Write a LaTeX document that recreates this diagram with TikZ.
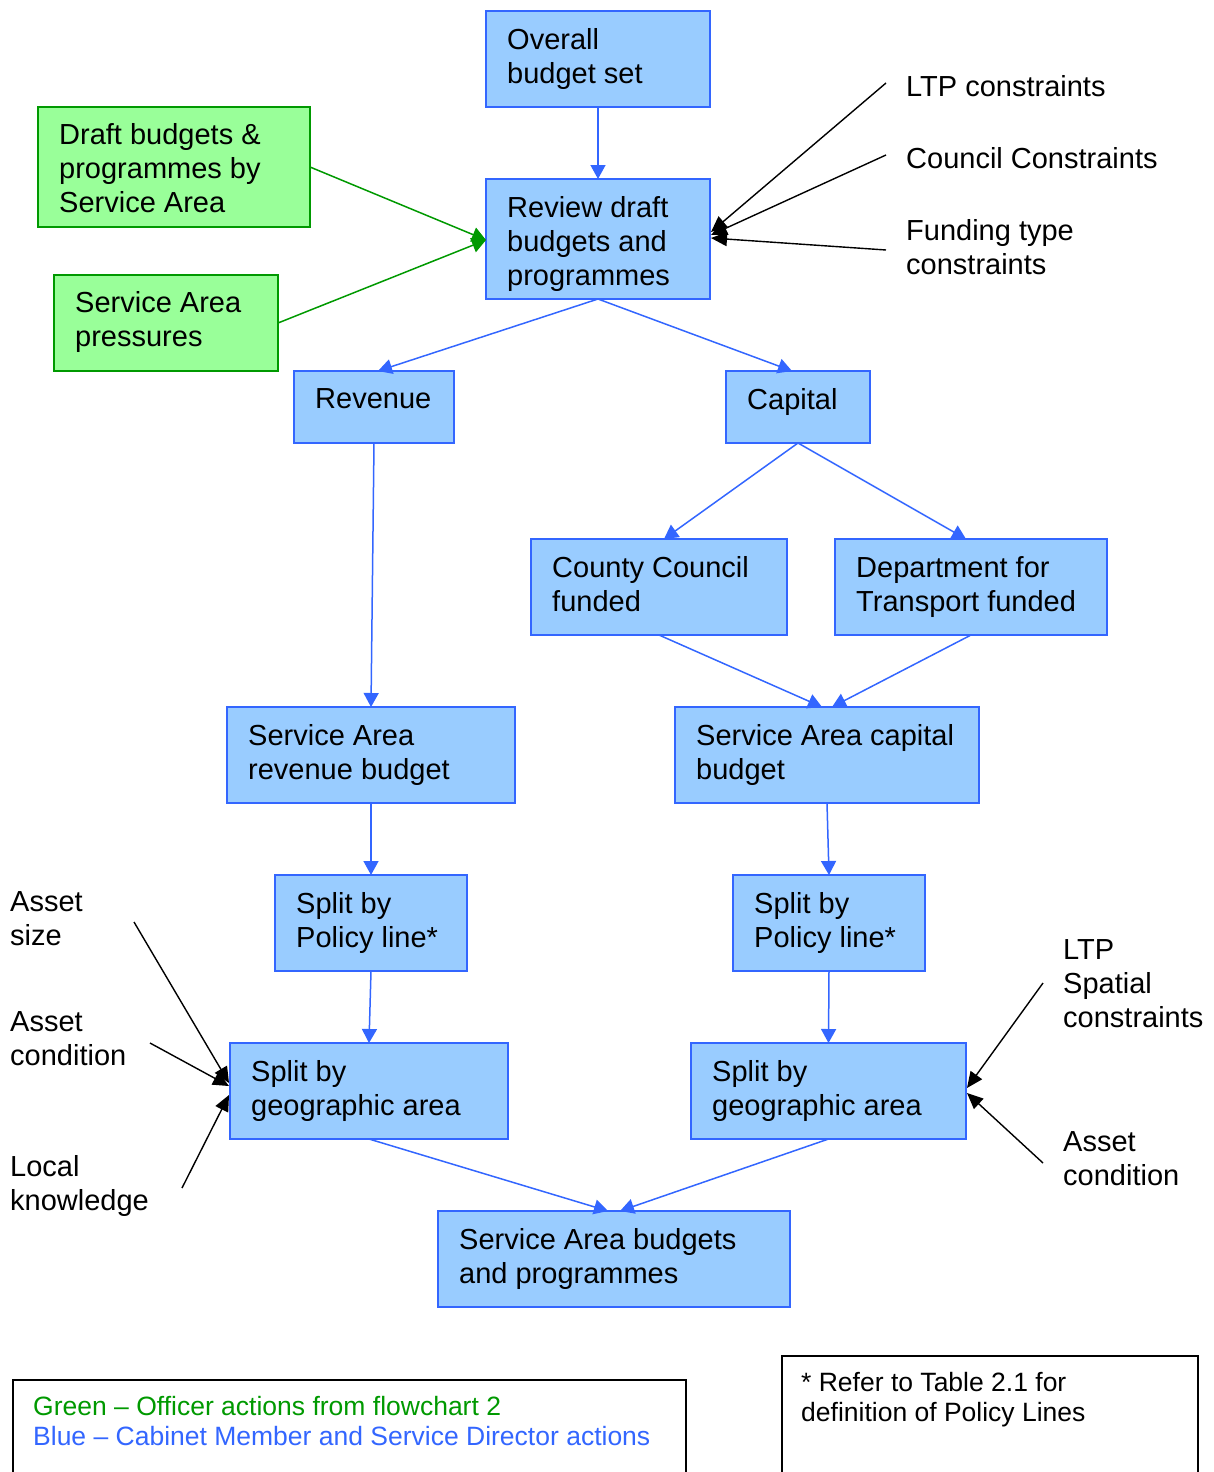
\documentclass[tikz,border=0pt]{standalone}
\usepackage{fontspec}
\setmainfont{Liberation Sans}
\usetikzlibrary{arrows.meta,calc}
\definecolor{bfill}{HTML}{99CCFF}
\definecolor{bline}{HTML}{3366FF}
\definecolor{gfill}{HTML}{99FF99}
\definecolor{gline}{HTML}{009900}
\begin{document}
\begin{tikzpicture}[x=1pt,y=-1pt,
 bbox/.style={draw=bline, fill=bfill, line width=2pt, anchor=north west, inner sep=0pt, outer sep=0pt},
 gbox/.style={draw=gline, fill=gfill, line width=2pt, anchor=north west, inner sep=0pt, outer sep=0pt},
 txt/.style={font=\fontsize{29}{34}\selectfont, align=left, inner sep=0pt, anchor=north west},
 note/.style={font=\fontsize{26.5}{30}\selectfont, align=left, inner sep=0pt, anchor=north west},
 barr/.style={draw=bline, line width=1.5pt, -{Triangle[length=14pt,width=15pt]}},
 garr/.style={draw=gline, line width=1.5pt, -{Triangle[length=14pt,width=15pt]}},
 karr/.style={draw=black, line width=1.4pt, -{Triangle[length=16pt,width=14pt]}},
 frame/.style={draw=black, line width=1.5pt}
]
\useasboundingbox (0,0) rectangle (1213,1472);

% blue boxes
\node[bbox, minimum width=224pt, minimum height=96pt] (ovr) at (486,11) {};
\node[bbox, minimum width=224pt, minimum height=120pt] (rvw) at (486,179) {};
\node[bbox, minimum width=160pt, minimum height=72pt] (rev) at (294,371) {};
\node[bbox, minimum width=144pt, minimum height=72pt] (cap) at (726,371) {};
\node[bbox, minimum width=256pt, minimum height=96pt] (ccf) at (531,539) {};
\node[bbox, minimum width=272pt, minimum height=96pt] (dft) at (835,539) {};
\node[bbox, minimum width=288pt, minimum height=96pt] (sarev) at (227,707) {};
\node[bbox, minimum width=304pt, minimum height=96pt] (sacap) at (675,707) {};
\node[bbox, minimum width=192pt, minimum height=96pt] (polL) at (275,875) {};
\node[bbox, minimum width=192pt, minimum height=96pt] (polR) at (733,875) {};
\node[bbox, minimum width=278pt, minimum height=96pt] (geoL) at (230,1043) {};
\node[bbox, minimum width=275pt, minimum height=96pt] (geoR) at (691,1043) {};
\node[bbox, minimum width=352pt, minimum height=96pt] (fin) at (438,1211) {};
% green boxes
\node[gbox, minimum width=272pt, minimum height=120pt] (draft) at (38,107) {};
\node[gbox, minimum width=224pt, minimum height=96pt] (press) at (54,275) {};

% box texts
\node[txt] (ovrT) at ($(ovr.north west)+(21,17)$) {Overall\\budget set};
\node[txt] (rvwT) at ($(rvw.north west)+(21,17)$) {Review draft\\budgets and\\programmes};
\node[txt] (revT) at ($(rev.north west)+(21,17)$) {Revenue};
\node[txt] (capT) at ($(cap.north west)+(21,17)$) {Capital};
\node[txt] (ccfT) at ($(ccf.north west)+(21,17)$) {County Council\\funded};
\node[txt] (dftT) at ($(dft.north west)+(21,17)$) {Department for\\Transport funded};
\node[txt] (sarevT) at ($(sarev.north west)+(21,17)$) {Service Area\\revenue budget};
\node[txt] (sacapT) at ($(sacap.north west)+(21,17)$) {Service Area capital\\budget};
\node[txt] (polLT) at ($(polL.north west)+(21,17)$) {Split by\\Policy line*};
\node[txt] (polRT) at ($(polR.north west)+(21,17)$) {Split by\\Policy line*};
\node[txt] (geoLT) at ($(geoL.north west)+(21,17)$) {Split by\\geographic area};
\node[txt] (geoRT) at ($(geoR.north west)+(21,17)$) {Split by\\geographic area};
\node[txt] (finT) at ($(fin.north west)+(21,17)$) {Service Area budgets\\and programmes};
\node[txt] (draftT) at ($(draft.north west)+(21,16)$) {Draft budgets \&\\programmes by\\Service Area};
\node[txt] (pressT) at ($(press.north west)+(21,16)$) {Service Area\\pressures};

% outside labels
\node[txt] (ltp) at (906,75) {LTP constraints};
\node[txt] (ccon) at (906,147) {Council Constraints};
\node[txt] (fund) at (906,219) {Funding type\\constraints};
\node[txt] (asize) at (10,891) {Asset\\size};
\node[txt] (acondL) at (10,1011) {Asset\\condition};
\node[txt] (local) at (10,1155) {Local\\knowledge};
\node[txt] (ltpsp) at (1063,939) {LTP\\Spatial\\constraints};
\node[txt] (acondR) at (1063,1131) {Asset\\condition};

% free ends of black connectors
\coordinate (cLtp) at (886,83);
\coordinate (cCcon) at (886,155);
\coordinate (cFund) at (886,250);
\coordinate (cSize) at (134,922);
\coordinate (cCondL) at (150,1043);
\coordinate (cLocal) at (182,1188);
\coordinate (cLtpsp) at (1043,983);
\coordinate (cCondR) at (1043,1163);

% blue connectors
\draw[barr] (ovr.south) -- (rvw.north);
\draw[barr] (rvw.south) -- ($(rev.north)+(4,0)$);
\draw[barr] (rvw.south) -- ($(cap.north)+(-6,0)$);
\draw[barr] (rev.south) -- (sarev.north);
\draw[barr] (cap.south) -- ($(ccf.north)+(5,0)$);
\draw[barr] (cap.south) -- ($(dft.north)+(-5,0)$);
\draw[barr] (ccf.south) -- ($(sacap.north)+(-5,0)$);
\draw[barr] (dft.south) -- ($(sacap.north)+(5,0)$);
\draw[barr] (sarev.south) -- (polL.north);
\draw[barr] (sacap.south) -- (polR.north);
\draw[barr] (polL.south) -- (geoL.north);
\draw[barr] (polR.south) -- (geoR.north);
\draw[barr] (geoL.south) -- ($(fin.north)+(-6,0)$);
\draw[barr] (geoR.south) -- ($(fin.north)+(6,0)$);

% green connectors
\draw[garr] (draft.east) -- ($(rvw.west)+(0,1)$);
\draw[garr] (press.east) -- ($(rvw.west)+(0,1)$);

% black connectors
\draw[karr] (cLtp) -- ($(rvw.east)+(1,-7)$);
\draw[karr] (cCcon) -- ($(rvw.east)+(1,-4)$);
\draw[karr] (cFund) -- ($(rvw.east)+(1,-1)$);
\draw[karr] (cSize) -- ($(geoL.west)+(-1,-8)$);
\draw[karr] (cCondL) -- ($(geoL.west)+(-1,-5)$);
\draw[karr] (cLocal) -- ($(geoL.west)+(-1,4)$);
\draw[karr] (cLtpsp) -- ($(geoR.east)+(1,-3)$);
\draw[karr] (cCondR) -- ($(geoR.east)+(1,2)$);

% legend and footnote frames
\node[frame, anchor=north west, minimum width=673pt, minimum height=100pt, inner sep=0pt] (legend) at (12,1379) {};
\node[note, text=gline] (legG) at (33,1396) {Green -- Officer actions from flowchart 2};
\node[note, text=bline] (legB) at (33,1426) {Blue -- Cabinet Member and Service Director actions};
\node[frame, anchor=north west, minimum width=416pt, minimum height=125pt, inner sep=0pt] (foot) at (781,1355) {};
\node[note] (footT) at (801,1372) {* Refer to Table 2.1 for\\definition of Policy Lines};
\end{tikzpicture}
\end{document}
